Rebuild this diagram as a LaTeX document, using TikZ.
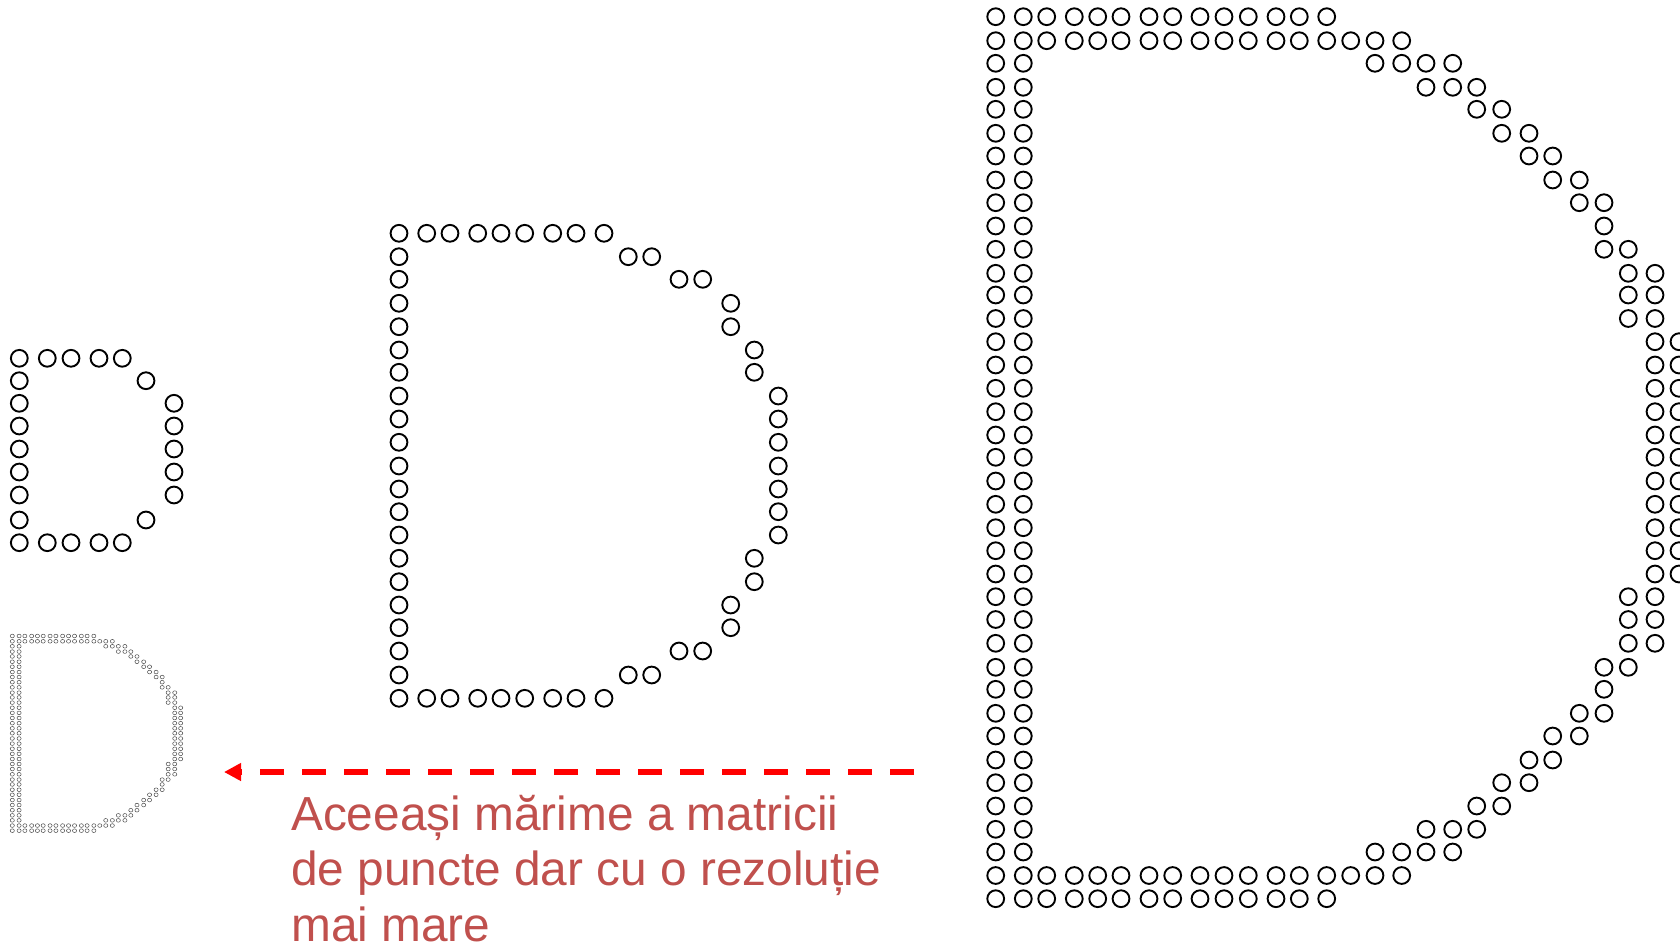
\documentclass[tikz,border=0pt]{standalone}
\usepackage{fontspec}
\newfontfamily\arialf{Liberation Sans}
\usetikzlibrary{arrows.meta}
\definecolor{txtred}{RGB}{192,80,77}
\definecolor{arrred}{RGB}{255,0,0}

% column / row centres (px) of the three dot matrices
\def\SX{{19.3,47.3,71,99,122.3,146,174}}
\def\SY{{358.3,380.7,403.3,426,449,472,495,520,542.7}}
\def\MX{{399,426.7,450,477.7,501,524.7,552.7,576,604,628.3,651.7,679,702.7,730.7,754.3,778.3}}
\def\MY{{233.3,256.7,279.3,303.3,326.7,350,372.3,396,419,442.3,466,489,511.7,535,558.3,581.7,605,627.7,651,675,698.3}}
\def\LX{{995.7,1023.3,1046.7,1074.3,1097.7,1121,1149,1172.7,1200,1224,1248.3,1276,1299.3,1326.7,1350.7,1375,1401.7,1426,1452.7,1476.7,1501.7,1529,1552.7,1579.3,1604,1628.3,1655,1679}}
\def\LY{{16.7,40.7,63.3,87.3,109.3,133.3,156,180,202.7,226,249.3,273.3,295,318.5,341.7,365,388.3,411.7,435,457.3,481,504.3,527.7,550.7,574,596.7,619.5,643.3,667.3,689.3,713.3,736,760,782.7,806,829.3,852,875.5,898.7}}

% draw dots of one row segment: #1 xs, #2 ys, #3 row, #4 first col, #5 last col
\newcommand\dotseg[5]{%
  \foreach \c in {#4,...,#5}{%
    \pgfmathsetmacro\px{#1[\c]}%
    \pgfmathsetmacro\py{#2[#3]}%
    \draw[dotc] (\px,\py) circle[radius=8.4pt];}}

\newcommand\bigDdots{%
  \foreach \r/\a/\b in {0/0/13,1/0/16,2/15/18,3/17/19,4/19/20,5/20/21,6/21/22,7/22/23,8/23/24,9/24/24,10/24/25,11/25/26,12/25/26,13/25/26,14/26/27,15/26/27,16/26/27,17/26/27,18/26/27}{%
    \dotseg{\LX}{\LY}{\r}{\a}{\b}%
    \pgfmathtruncatemacro\rr{38-\r}%
    \dotseg{\LX}{\LY}{\rr}{\a}{\b}}%
  \dotseg{\LX}{\LY}{19}{26}{27}%
  \foreach \r in {2,...,36}{\dotseg{\LX}{\LY}{\r}{0}{1}}%
}

\begin{document}
\begin{tikzpicture}[x=1pt,y=-1pt,
  dotc/.style={draw=black, line width=1.9pt}]
\useasboundingbox (0,0) rectangle (1680,946);
\clip (0,0) rectangle (1680,946);

% small D (7 x 9)
\foreach \r/\a/\b in {0/0/4,1/5/5,2/6/6,3/6/6}{%
  \dotseg{\SX}{\SY}{\r}{\a}{\b}%
  \pgfmathtruncatemacro\rr{8-\r}%
  \dotseg{\SX}{\SY}{\rr}{\a}{\b}}
\dotseg{\SX}{\SY}{4}{6}{6}
\foreach \r in {1,...,7}{\dotseg{\SX}{\SY}{\r}{0}{0}}

% medium D (16 x 21)
\foreach \r/\a/\b in {0/0/8,1/9/10,2/11/12,3/13/13,4/13/13,5/14/14,6/14/14,7/15/15,8/15/15,9/15/15}{%
  \dotseg{\MX}{\MY}{\r}{\a}{\b}%
  \pgfmathtruncatemacro\rr{20-\r}%
  \dotseg{\MX}{\MY}{\rr}{\a}{\b}}
\dotseg{\MX}{\MY}{10}{15}{15}
\foreach \r in {1,...,19}{\dotseg{\MX}{\MY}{\r}{0}{0}}

% large D (28 x 39)
\bigDdots

% tiny D: large pattern shrunk to the small D's size
\begin{scope}[shift={(-233.04pt,-632.31pt)}, xscale=0.2464, yscale=0.2207,
  dotc/.style={draw=black!70, line width=0.5pt}]
\bigDdots
\end{scope}

% dashed arrow
\coordinate (arrS) at (914,772);
\coordinate (arrE) at (224,772);
\draw[draw=arrred, line width=6pt, dash pattern=on 24pt off 18pt,
  -{Triangle[length=17pt,width=17pt,fill=arrred]}] (arrS) -- (arrE);

% caption
\node[anchor=base west, inner sep=0pt, text=txtred,
  font=\arialf\fontsize{47.8pt}{55.8pt}\selectfont] (caption) at (291,830)
  {\parbox[t]{700pt}{\raggedright Aceeași mărime a matricii\\de puncte dar cu o rezoluție\\mai mare}};
\end{tikzpicture}
\end{document}
